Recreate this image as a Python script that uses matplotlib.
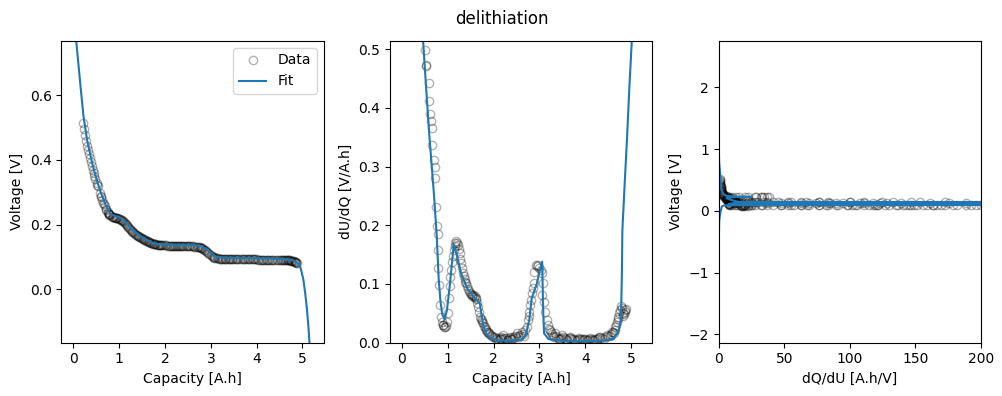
import matplotlib.pyplot as plt
import numpy as np

# measured points (capacity [A.h], voltage [V], dU/dQ [V/A.h])
cap_data = [0.22, 0.24, 0.26, 0.28, 0.30, 0.32, 0.34, 0.36, 0.38, 0.40,
            0.42, 0.44, 0.46, 0.48, 0.51, 0.52, 0.53, 0.58, 0.60, 0.61,
            0.635, 0.655, 0.665, 0.69, 0.71, 0.72, 0.745, 0.765, 0.775, 0.78,
            0.785, 0.80,
            0.84, 0.855, 0.87, 0.885, 0.90, 0.92, 0.94, 0.96, 0.98, 1.00,
            1.02, 1.04, 1.055, 1.07, 1.09, 1.11, 1.13, 1.15, 1.165, 1.18,
            1.20, 1.22, 1.24, 1.26, 1.275, 1.29, 1.31, 1.33, 1.35, 1.37,
            1.385, 1.40, 1.42, 1.44, 1.46, 1.48, 1.50, 1.52, 1.535, 1.55,
            1.57, 1.59, 1.605, 1.62, 1.64, 1.66, 1.68, 1.70, 1.72, 1.74,
            1.755, 1.77, 1.79, 1.81, 1.825, 1.84, 1.86, 1.88, 1.895, 1.91,
            1.935, 1.96, 1.99, 2.02, 2.05, 2.08, 2.105, 2.13, 2.15, 2.17,
            2.19, 2.21, 2.235, 2.26, 2.285, 2.31, 2.33, 2.35, 2.375, 2.40,
            2.425, 2.45, 2.475, 2.50, 2.525, 2.55, 2.58, 2.61, 2.635, 2.66,
            2.69, 2.72, 2.75, 2.765, 2.78, 2.795, 2.81, 2.83, 2.86, 2.88,
            2.89, 2.92, 2.945, 2.97, 3.00, 3.025, 3.05, 3.06, 3.08, 3.10,
            3.13, 3.16, 3.18, 3.20, 3.225, 3.25, 3.275, 3.30, 3.32, 3.34,
            3.37, 3.40, 3.425, 3.45, 3.47, 3.49, 3.52, 3.55, 3.575, 3.60,
            3.635, 3.67, 3.695, 3.72, 3.75, 3.78, 3.81, 3.84, 3.865, 3.89,
            3.92, 3.95, 3.975, 4.00, 4.03, 4.06, 4.085, 4.11, 4.14, 4.17,
            4.195, 4.22, 4.25, 4.28, 4.305, 4.33, 4.365, 4.40, 4.435, 4.47,
            4.50, 4.53, 4.555, 4.58, 4.60, 4.62, 4.64, 4.66, 4.675, 4.69,
            4.705, 4.72, 4.74, 4.76, 4.78, 4.80, 4.815, 4.83, 4.845, 4.86,
            4.87, 4.88]
volt_data = [0.515, 0.495, 0.476, 0.459, 0.444, 0.430, 0.417, 0.404, 0.392, 0.381,
             0.370, 0.360, 0.350, 0.341, 0.328, 0.323, 0.319, 0.298, 0.289, 0.285,
             0.275, 0.268, 0.264, 0.256, 0.249, 0.246, 0.240, 0.235, 0.233, 0.232,
             0.231, 0.228,
             0.224, 0.223, 0.222, 0.222, 0.221, 0.221, 0.220, 0.220, 0.219, 0.218,
             0.217, 0.215, 0.214, 0.212, 0.210, 0.207, 0.204, 0.201, 0.199, 0.196,
             0.193, 0.189, 0.186, 0.183, 0.181, 0.178, 0.176, 0.173, 0.171, 0.169,
             0.167, 0.166, 0.164, 0.162, 0.160, 0.159, 0.157, 0.156, 0.154, 0.153,
             0.151, 0.150, 0.149, 0.148, 0.146, 0.145, 0.144, 0.143, 0.142, 0.141,
             0.140, 0.140, 0.139, 0.139, 0.138, 0.138, 0.138, 0.137, 0.137, 0.137,
             0.136, 0.136, 0.136, 0.136, 0.135, 0.135, 0.135, 0.135, 0.135, 0.135,
             0.135, 0.135, 0.134, 0.134, 0.134, 0.134, 0.134, 0.134, 0.134, 0.134,
             0.134, 0.134, 0.133, 0.133, 0.133, 0.133, 0.133, 0.133, 0.132, 0.132,
             0.132, 0.131, 0.130, 0.130, 0.129, 0.128, 0.127, 0.125, 0.122, 0.120,
             0.119, 0.115, 0.112, 0.109, 0.105, 0.102, 0.100, 0.099, 0.098, 0.097,
             0.096, 0.096, 0.095, 0.095, 0.095, 0.095, 0.095, 0.095, 0.095, 0.095,
             0.094, 0.094, 0.094, 0.094, 0.094, 0.094, 0.094, 0.094, 0.094, 0.094,
             0.094, 0.094, 0.093, 0.093, 0.093, 0.093, 0.093, 0.093, 0.093, 0.093,
             0.093, 0.093, 0.093, 0.093, 0.092, 0.092, 0.092, 0.092, 0.092, 0.092,
             0.092, 0.092, 0.092, 0.092, 0.091, 0.091, 0.091, 0.091, 0.091, 0.091,
             0.091, 0.091, 0.090, 0.090, 0.090, 0.090, 0.090, 0.090, 0.089, 0.089,
             0.089, 0.089, 0.088, 0.088, 0.087, 0.087, 0.086, 0.085, 0.084, 0.083,
             0.082, 0.081]
dudq_data = [1.30, 1.15, 1.05, 0.95, 0.88, 0.82, 0.77, 0.72, 0.68, 0.64,
             0.60, 0.57, 0.55, 0.53, 0.499, 0.473, 0.471, 0.442, 0.411, 0.390,
             0.377, 0.365, 0.337, 0.311, 0.300, 0.280, 0.232, 0.198, 0.186, 0.158,
             0.127, 0.098,
             0.064, 0.044, 0.036, 0.031, 0.030, 0.027, 0.026, 0.029, 0.035, 0.050,
             0.076, 0.112, 0.096, 0.124, 0.138, 0.147, 0.158, 0.164, 0.170, 0.173,
             0.170, 0.166, 0.160, 0.152, 0.143, 0.135, 0.127, 0.118, 0.113, 0.108,
             0.104, 0.101, 0.096, 0.092, 0.088, 0.084, 0.083, 0.082, 0.080, 0.081,
             0.078, 0.079, 0.074, 0.076, 0.068, 0.061, 0.052, 0.044, 0.041, 0.038,
             0.035, 0.033, 0.029, 0.027, 0.024, 0.022, 0.019, 0.018, 0.015, 0.016,
             0.013, 0.012, 0.009, 0.010, 0.0065, 0.008, 0.0045, 0.0058, 0.0075, 0.010,
             0.0068, 0.013, 0.0085, 0.0072, 0.0053, 0.0049, 0.0078, 0.0105, 0.0062, 0.0057,
             0.0093, 0.0081, 0.0118, 0.016, 0.0112, 0.0090, 0.0135, 0.019, 0.0145, 0.012,
             0.021, 0.027, 0.039, 0.046, 0.053, 0.064, 0.073, 0.084, 0.093, 0.121,
             0.101, 0.132, 0.130, 0.132, 0.128, 0.124, 0.118, 0.081, 0.101, 0.070,
             0.052, 0.039, 0.030, 0.024, 0.021, 0.018, 0.0145, 0.012, 0.0098, 0.016,
             0.0112, 0.0082, 0.0068, 0.0059, 0.0087, 0.013, 0.0095, 0.0073, 0.0061, 0.0052,
             0.0079, 0.0102, 0.0084, 0.0064, 0.0055, 0.0042, 0.0051, 0.0069, 0.0077, 0.0071,
             0.0058, 0.0053, 0.0066, 0.0060, 0.0048, 0.0039, 0.0056, 0.0074, 0.0063, 0.0050,
             0.0046, 0.0061, 0.0070, 0.0083, 0.0090, 0.0101, 0.0085, 0.0067, 0.0096, 0.013,
             0.0122, 0.011, 0.0148, 0.019, 0.0175, 0.016, 0.021, 0.027, 0.031, 0.036,
             0.040, 0.044, 0.050, 0.056, 0.062, 0.059, 0.051, 0.045, 0.049, 0.053,
             0.056, 0.058]

# fitted model sampled on its own capacity grid
cap_fit = [0.000, 0.005, 0.010, 0.020, 0.030, 0.045, 0.060, 0.100, 0.150, 0.220,
           0.300, 0.400, 0.460, 0.530, 0.600, 0.700, 0.760, 0.800, 0.840, 0.880,
           0.930, 0.980, 1.040, 1.130, 1.200, 1.290, 1.440, 1.590, 1.700, 1.730,
           1.770, 1.840, 1.950, 2.100, 2.400, 2.600, 2.700, 2.780, 2.830, 2.940,
           3.000, 3.060, 3.080, 3.100, 3.200, 3.500, 3.900, 4.300, 4.620, 4.730,
           4.780, 4.800, 4.810, 4.860, 4.910, 4.960, 5.020, 5.060, 5.100, 5.130,
           5.160, 5.180, 5.190, 5.200]
volt_fit = [2.52, 2.00, 1.65, 1.25, 1.02, 0.86, 0.77, 0.71, 0.635, 0.535,
            0.460, 0.395, 0.362, 0.328, 0.298, 0.262, 0.245, 0.236, 0.231, 0.228,
            0.226, 0.224, 0.220, 0.210, 0.198, 0.184, 0.166, 0.153, 0.145, 0.143,
            0.142, 0.140, 0.139, 0.138, 0.137, 0.136, 0.135, 0.133, 0.130, 0.120,
            0.113, 0.105, 0.102, 0.101, 0.099, 0.097, 0.096, 0.095, 0.093, 0.091,
            0.090, 0.089, 0.088, 0.084, 0.079, 0.066, 0.030, -0.012, -0.065, -0.115,
            -0.180, -0.400, -0.850, -1.910]
dudq_fit = [60, 45, 30, 15, 8, 4, 2.5, 1.5, 1.0, 0.75,
            0.64, 0.56, 0.515, 0.43, 0.35, 0.25, 0.18, 0.11, 0.07, 0.048,
            0.040, 0.055, 0.095, 0.168, 0.148, 0.118, 0.090, 0.076, 0.067, 0.050,
            0.030, 0.014, 0.007, 0.004, 0.0035, 0.005, 0.012, 0.040, 0.075, 0.100,
            0.120, 0.138, 0.060, 0.016, 0.006, 0.003, 0.0025, 0.003, 0.006, 0.020,
            0.040, 0.120, 0.190, 0.270, 0.345, 0.430, 0.520, 0.70, 1.0, 1.6,
            2.6, 6, 15, 60]


def plot_fit(title, output_file):
    assert len(cap_data) == len(volt_data) == len(dudq_data)
    assert len(cap_fit) == len(volt_fit) == len(dudq_fit)

    fig, axs = plt.subplots(1, 3, figsize=(10.03, 3.96))
    fig.subplots_adjust(left=0.0613, right=0.9778, bottom=0.1346, top=0.8965, wspace=0.254)

    dqdu_data = 1 / np.array(dudq_data)
    dqdu_fit = 1 / np.array(dudq_fit)

    ax = axs[0]
    ax.plot(cap_data, volt_data, 'o', mfc='none', color='k', alpha=0.3, label='Data')
    ax.plot(cap_fit, volt_fit, '-', color='C0', label='Fit')
    ax.set_xlim(-0.26, 5.46)
    ax.set_ylim(-0.165, 0.767)
    ax.set_xlabel('Capacity [A.h]')
    ax.set_ylabel('Voltage [V]')
    ax.legend()

    ax = axs[1]
    ax.plot(cap_data, dudq_data, 'o', mfc='none', color='k', alpha=0.3)
    ax.plot(cap_fit, dudq_fit, '-', color='C0')
    ax.set_xlim(-0.26, 5.46)
    ax.set_ylim(0, 0.514)
    ax.set_xlabel('Capacity [A.h]')
    ax.set_ylabel('dU/dQ [V/A.h]')

    ax = axs[2]
    ax.plot(dqdu_data, volt_data, 'o', mfc='none', color='k', alpha=0.3)
    ax.plot(dqdu_fit, volt_fit, '-', color='C0')
    ax.set_xlim(0, 200)
    ax.set_ylim(-2.136, 2.75)
    ax.set_xlabel('dQ/dU [A.h/V]')
    ax.set_ylabel('Voltage [V]')

    fig.suptitle(title, y=0.975)
    fig.savefig(output_file, dpi=100)


if __name__ == "__main__":
    plot_fit('delithiation', 'out.png')
